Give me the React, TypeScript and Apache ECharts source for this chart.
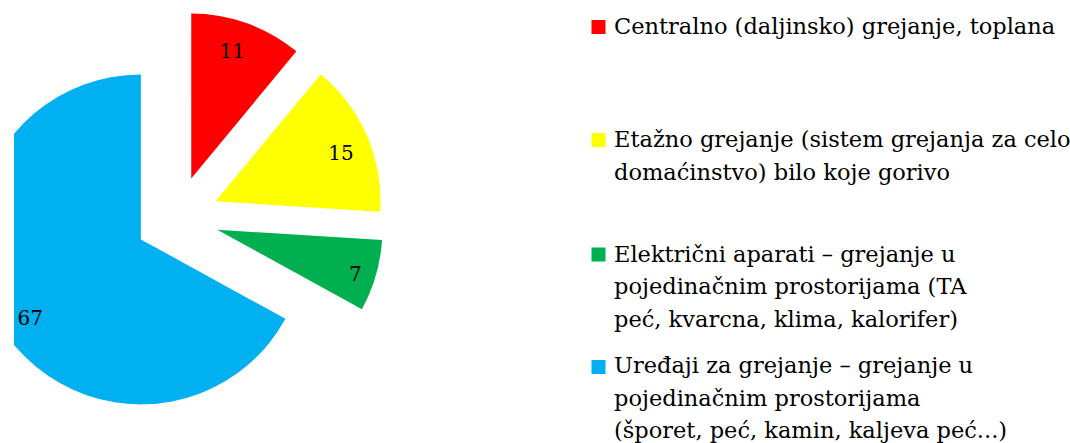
import React, { useEffect, useRef } from "react";
import * as echarts from "echarts";

const categories = [
  "Centralno (daljinsko) grejanje, toplana",
  "Etažno grejanje (sistem grejanja za celo domaćinstvo) bilo koje gorivo",
  "Električni aparati – grejanje u pojedinačnim prostorijama (TA peć, kvarcna, klima, kalorifer)",
  "Uređaji za grejanje – grejanje u pojedinačnim prostorijama (šporet, peć, kamin, kaljeva peć...)",
];
const legendLines = [
  "Centralno (daljinsko) grejanje, toplana",
  "Etažno grejanje (sistem grejanja za celo\ndomaćinstvo) bilo koje gorivo",
  "Električni aparati – grejanje u\npojedinačnim prostorijama (TA\npeć, kvarcna, klima, kalorifer)",
  "Uređaji za grejanje – grejanje u\npojedinačnim prostorijama\n(šporet, peć, kamin, kaljeva peć...)",
];
const values = [11, 15, 7, 67];
const colors = ["#FF0000", "#FFFF00", "#00B050", "#00B0F0"];
// label nudges [dx, dy] in px
const labelNudges = [
  [-5, 0],
  [1, 5],
  [8, 6],
  [6, 10],
];

const FONT = "'DejaVu Serif', 'Liberation Serif', serif";

export default function App() {
  const ref = useRef<HTMLDivElement>(null);
  useEffect(() => {
    if (!ref.current) return;
    const chart = echarts.init(ref.current, undefined, { renderer: "svg" });
    const center = [163, 218];
    const R = 165;
    const offset = 42;
    const data = categories.map((name, i) => ({
      name,
      value: values[i],
      selected: true,
      itemStyle: { color: colors[i] },
    }));
    const legendTops = [9.3, 123.2, 237.6, 349.2];
    const squareTops = [20, 133, 247.5, 360];
    const graphic: any[] = [];
    categories.forEach((_, i) => {
      graphic.push({
        type: "rect",
        left: 577.5,
        top: squareTops[i],
        shape: { width: 14, height: 14 },
        style: { fill: colors[i] },
        silent: true,
      });
      graphic.push({
        type: "text",
        left: 600,
        top: legendTops[i],
        style: {
          text: legendLines[i],
          font: `22.5px ${FONT}`,
          fill: "#000",
          lineHeight: 32.5,
        },
        silent: true,
      });
    });
    chart.setOption({
      animation: false,
      series: [
        {
          type: "pie",
          center,
          radius: [0, R],
          startAngle: 90,
          clockwise: true,
          selectedMode: "multiple",
          selectedOffset: offset,
          label: { show: false },
          labelLine: { show: false },
          emphasis: { disabled: true },
          silent: true,
          data,
        },
        {
          type: "pie",
          center,
          radius: [100, R],
          startAngle: 90,
          clockwise: true,
          selectedMode: "multiple",
          selectedOffset: offset,
          itemStyle: { color: "transparent", borderWidth: 0 },
          label: {
            show: true,
            position: "inside",
            color: "#000",
            fontFamily: FONT,
            fontSize: 20,
          },
          labelLine: { show: false },
          emphasis: { disabled: true },
          silent: true,
          data: categories.map((name, i) => {
            const [dx, dy] = labelNudges[i];
            const h = 2 * dy;
            return {
              name,
              value: values[i],
              selected: true,
              itemStyle: { color: "transparent" },
              label: {
                formatter: h > 0 ? "{s| }\n{v|{c}}" : "{v|{c}}",
                padding: [0, Math.max(-2 * dx, 0), 0, Math.max(2 * dx, 0)],
                rich: {
                  s: { height: h, fontSize: 1, lineHeight: h },
                  v: { fontSize: 20, fontFamily: FONT, color: "#000", height: 24, lineHeight: 24 },
                },
              },
            };
          }),
        },
      ],
      graphic,
    });
    return () => chart.dispose();
  }, []);
  return (
    <div
      ref={ref}
      style={{ position: "absolute", left: 14, top: 0, width: 1056, height: 443 }}
    />
  );
}
